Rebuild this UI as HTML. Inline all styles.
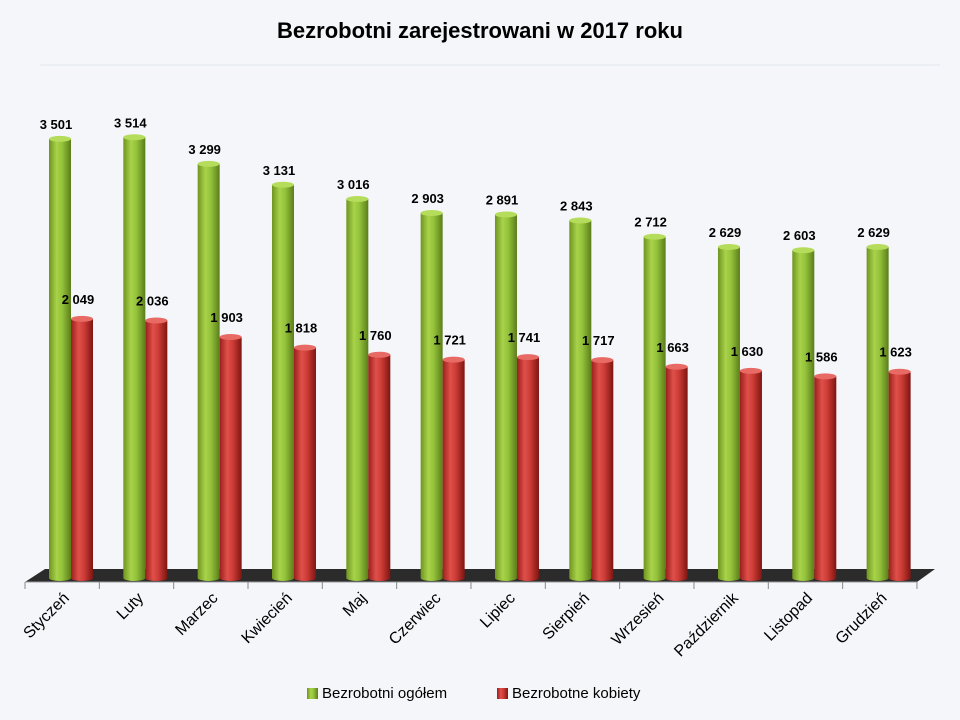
<!DOCTYPE html>
<html><head><meta charset="utf-8"><style>
html,body{margin:0;padding:0;background:#f4f6fa;}
svg{display:block;font-family:"Liberation Sans",sans-serif;}
</style></head><body>
<svg id="s" width="960" height="720" viewBox="0 0 960 720" xmlns="http://www.w3.org/2000/svg">
<defs>
<linearGradient id="g" x1="0" x2="1" y1="0" y2="0">
<stop offset="0" stop-color="#6f9420"/><stop offset="0.35" stop-color="#a8d34a"/><stop offset="0.6" stop-color="#93c23a"/><stop offset="1" stop-color="#5b7d1a"/></linearGradient>
<linearGradient id="r" x1="0" x2="1" y1="0" y2="0">
<stop offset="0" stop-color="#9a1f1c"/><stop offset="0.35" stop-color="#e0504a"/><stop offset="0.6" stop-color="#cc3b35"/><stop offset="1" stop-color="#7e1512"/></linearGradient>
</defs>
<rect x="0" y="0" width="960" height="720" fill="#f4f6fa"/>
<line x1="40" y1="65" x2="940" y2="65" stroke="#e2e5ea"/>
<text x="480" y="38" text-anchor="middle" font-size="22" font-weight="bold" fill="#000">Bezrobotni zarejestrowani w 2017 roku</text>
<polygon points="25,582 917,582 935,569 45,569" fill="#2b2b2b"/>
<line x1="25" y1="582" x2="917" y2="582" stroke="#999"/>
<g id="bars"></g>
<rect x="307" y="688" width="11" height="11" fill="url(#g)"/>
<text x="322" y="698" font-size="15" fill="#000">Bezrobotni ogółem</text>
<rect x="497" y="688" width="11" height="11" fill="url(#r)"/>
<text x="512" y="698" font-size="15" fill="#000">Bezrobotne kobiety</text>
</svg>
<script>
var m=["Styczeń","Luty","Marzec","Kwiecień","Maj","Czerwiec","Lipiec","Sierpień","Wrzesień","Październik","Listopad","Grudzień"];
var gv=[3501,3514,3299,3131,3016,2903,2891,2843,2712,2629,2603,2629];
var rv=[2049,2036,1903,1818,1760,1721,1741,1717,1663,1630,1586,1623];
var base=573,k=0.124,sp=74.33,h="";
function fmt(v){var s=String(v);return s[0]+" "+s.slice(1);}
function bar(cx,v,fill){var t=base-v*k,w=22,x=cx-w/2;
return '<path d="M'+x+','+t+' L'+x+',578 A11,3 0 0 0 '+(x+w)+',578 L'+(x+w)+','+t+' Z" fill="url(#'+fill+')"/>'+
'<ellipse cx="'+cx+'" cy="'+t+'" rx="11" ry="3" fill="'+(fill=="g"?"#b5dc5a":"#e86a64")+'"/>';}
for(var i=0;i<12;i++){var t0=25+i*sp,gc=t0+35,rc=gc+22;
h+=bar(gc,gv[i],"g")+bar(rc,rv[i],"r");
h+='<text x="'+(gc-4)+'" y="'+(base-gv[i]*k-10)+'" text-anchor="middle" font-size="13" font-weight="bold">'+fmt(gv[i])+'</text>';
h+='<text x="'+(rc-4)+'" y="'+(base-rv[i]*k-15)+'" text-anchor="middle" font-size="13" font-weight="bold">'+fmt(rv[i])+'</text>';
h+='<line x1="'+t0+'" y1="582" x2="'+t0+'" y2="589" stroke="#888"/>';
h+='<text transform="translate('+(t0+45)+',599) rotate(-45)" text-anchor="end" font-size="16">'+m[i]+'</text>';}
h+='<line x1="'+(25+12*sp)+'" y1="582" x2="'+(25+12*sp)+'" y2="589" stroke="#888"/>';
document.getElementById("bars").innerHTML=h;
</script>
</body></html>
